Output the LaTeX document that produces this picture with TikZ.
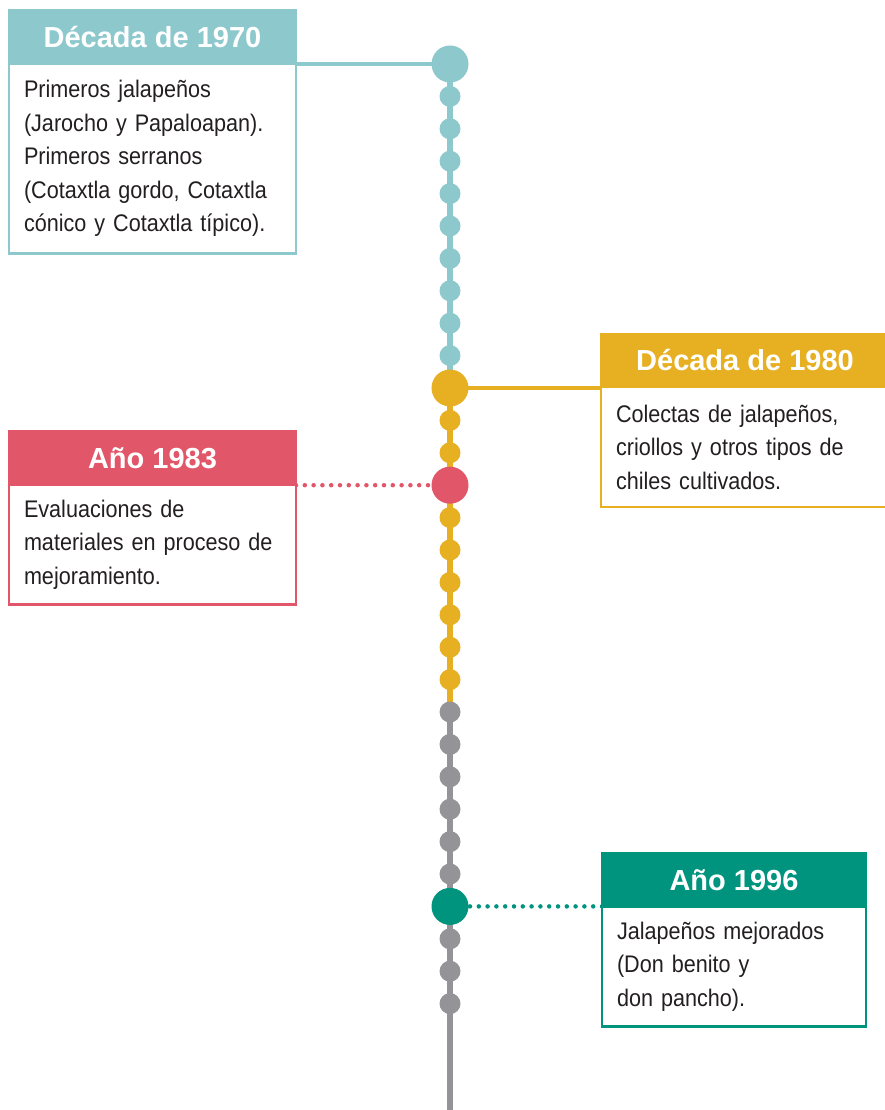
\documentclass[tikz,border=0pt]{standalone}
\usepackage{fontspec}
\usepackage{xcolor}
\usetikzlibrary{positioning,backgrounds}

\newfontfamily\headfont{Liberation Sans}
\newfontfamily\bodyfont[FakeStretch=0.9,WordSpace=0.8]{Liberation Sans}

\definecolor{tealc}{HTML}{8DC8CD}
\definecolor{yellowc}{HTML}{E7B022}
\definecolor{redc}{HTML}{E2566A}
\definecolor{greenc}{HTML}{00947E}
\definecolor{grayc}{HTML}{949498}
\definecolor{textc}{HTML}{231F20}

\tikzset{
    smalldot/.style={circle, inner sep=0pt, minimum size=21pt},
    bigdot/.style={circle, inner sep=0pt, minimum size=37pt},
    header/.style={rectangle, draw=#1, fill=#1, line width=2.5pt, outer sep=0pt,
        minimum height=53pt, text=white,
        font=\headfont\bfseries\fontsize{29}{34}\selectfont},
    body/.style={rectangle, draw=#1, fill=white, line width=2.5pt, outer sep=0pt,
        inner xsep=15pt, align=left, text=textc,
        font=\bodyfont\fontsize{24}{33.5}\selectfont},
    spine/.style={line width=6pt},
    link/.style={line width=3.2pt},
    dotlink/.style={line width=4.5pt, line cap=round, dash pattern=on 0pt off 8.8pt}
}

\begin{document}
\begin{tikzpicture}[x=1pt,y=-1pt]
                \useasboundingbox (0,0) rectangle (884,1110);

                % big dots
                \node[bigdot, fill=tealc] (d0) at (450,64) {};
                \node[bigdot, fill=yellowc] (d10) at (450,64+32.4*10) {};
                \node[bigdot, fill=redc] (d13) at (450,64+32.4*13) {};
                \node[bigdot, fill=greenc] (d26) at (450,64+32.4*26) {};

                % small dots
                \foreach \i in {1,...,9}
                    \node[smalldot, fill=tealc] (d\i) at (450,64+32.4*\i) {};
                \foreach \i in {11,12,14,15,16,17,18,19}
                    \node[smalldot, fill=yellowc] (d\i) at (450,64+32.4*\i) {};
                \foreach \i in {20,...,25,27,28,29}
                    \node[smalldot, fill=grayc] (d\i) at (450,64+32.4*\i) {};
                \coordinate (bottom) at (450,1112);

                % boxes
                \node[header=tealc, minimum width=287pt] (head1970) at (152.5,37) {Década de 1970};
                \node[body=tealc, minimum width=287pt, text width=257pt, minimum height=190pt,
                    below=0pt of head1970] (body1970)
                    {Primeros jalapeños\\(Jarocho y Papaloapan).\\Primeros serranos\\(Cotaxtla gordo, Cotaxtla\\cónico y Cotaxtla típico).};

                \node[header=yellowc, minimum width=288pt] (head1980) at (745,360.5) {Década de 1980};
                \node[body=yellowc, minimum width=288pt, text width=258pt, minimum height=120pt,
                    below=0pt of head1980] (body1980)
                    {Colectas de jalapeños,\\criollos y otros tipos de\\chiles cultivados.};

                \node[header=redc, minimum width=287pt] (head1983) at (152.5,458) {Año 1983};
                \node[body=redc, minimum width=287pt, text width=257pt, minimum height=120pt,
                    below=0pt of head1983] (body1983)
                    {Evaluaciones de\\materiales en proceso de\\mejoramiento.};

                \node[header=greenc, minimum width=264pt] (head1996) at (734,880) {Año 1996};
                \node[body=greenc, minimum width=264pt, text width=234pt, minimum height=120pt,
                    below=0pt of head1996] (body1996)
                    {Jalapeños mejorados\\(Don benito y\\don pancho).};

                \begin{scope}[on background layer]
                    \draw[spine, tealc] (d0.center) -- (d10.center);
                    \draw[spine, yellowc] (d10.center) -- (d20.center);
                    \draw[spine, grayc] (d20.center) -- (bottom);

                    \draw[link, tealc] (d0.center) -- (d0.center -| head1970.east);
                    \draw[link, yellowc] (d10.center) -- (d10.center -| head1980.west);
                    \draw[dotlink, redc] (d13.center -| head1983.east) -- (d13.center);
                    \draw[dotlink, greenc] (d26.center -| head1996.west) -- (d26.center);
                \end{scope}
            \end{tikzpicture}
\end{document}
